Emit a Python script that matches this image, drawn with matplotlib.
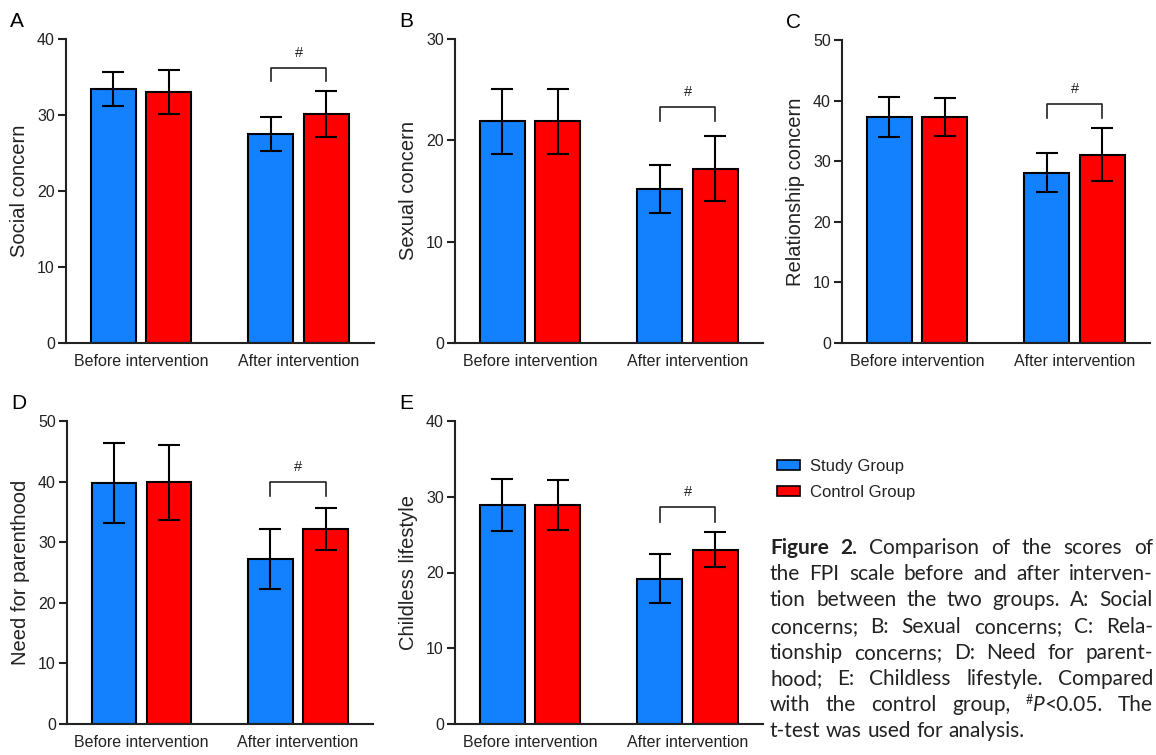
import matplotlib.pyplot as plt
import numpy as np
from matplotlib.patches import Patch

plt.rcParams['font.family'] = ['Liberation Sans', 'DejaVu Sans']

W, H = 1156, 755

groups = ['Before intervention', 'After intervention']
panel_letters = ['A', 'B', 'C', 'D', 'E']
ylabels = ['Social concern', 'Sexual concern', 'Relationship concern',
           'Need for parenthood', 'Childless lifestyle']
ymax = [40, 30, 50, 50, 40]

# mean and SD per panel: [before, after]
study_mean = [[33.4, 27.5], [21.9, 15.2], [37.3, 28.1], [39.7, 27.2], [28.9, 19.2]]
study_sd = [[2.2, 2.3], [3.2, 2.4], [3.3, 3.2], [6.6, 5.0], [3.4, 3.2]]
control_mean = [[33.0, 30.1], [21.9, 17.2], [37.3, 31.1], [39.9, 32.2], [28.9, 23.0]]
control_sd = [[2.9, 3.05], [3.2, 3.2], [3.2, 4.4], [6.2, 3.5], [3.3, 2.3]]

# significance bracket (after intervention)
bracket_top = [36.2, 23.3, 39.4, 39.9, 28.6]
bracket_leg = [34.5, 21.9, 37.1, 37.6, 26.7]

BLUE = '#1380fe'
RED = '#fe0000'
TXT = '#222222'

# axes boxes in pixels: left, top, width, height
boxes = [(66, 39, 308, 304), (455, 39, 308, 304), (842, 40, 308, 303),
         (67, 421, 306, 303), (455, 421, 308, 303)]

fig = plt.figure(figsize=(W / 100, H / 100), dpi=100)

offset = 0.176
width = 0.286
x = np.arange(len(groups))

for i in range(5):
    l, t, w, h = boxes[i]
    ax = fig.add_axes([l / W, 1 - (t + h) / H, w / W, h / H])
    ax.bar(x - offset, study_mean[i], width, color=BLUE, edgecolor='black', linewidth=1.5, zorder=2)
    ax.bar(x + offset, control_mean[i], width, color=RED, edgecolor='black', linewidth=1.5, zorder=2)
    ax.errorbar(x - offset, study_mean[i], yerr=study_sd[i], fmt='none', ecolor='black',
                elinewidth=1.5, capsize=8, capthick=1.5, zorder=3)
    ax.errorbar(x + offset, control_mean[i], yerr=control_sd[i], fmt='none', ecolor='black',
                elinewidth=1.5, capsize=8, capthick=1.5, zorder=3)

    # bracket over after intervention
    bx = [1 - offset, 1 - offset, 1 + offset, 1 + offset]
    by = [bracket_leg[i], bracket_top[i], bracket_top[i], bracket_leg[i]]
    ax.plot(bx, by, color='#222222', linewidth=1.2, zorder=3)
    ax.annotate('#', (1, bracket_top[i]), xytext=(0, 6), textcoords='offset points',
                ha='center', va='bottom', fontsize=10.5, color=TXT)

    ax.set_xlim(-0.476, 1.479)
    ax.set_ylim(0, ymax[i])
    ax.set_yticks(np.arange(0, ymax[i] + 1, 10))
    ax.set_xticks(x)
    ax.set_xticklabels(groups)
    ax.spines['top'].set_visible(False)
    ax.spines['right'].set_visible(False)
    for s in ('left', 'bottom'):
        ax.spines[s].set_linewidth(1.5)
        ax.spines[s].set_color('#222222')
    ax.tick_params(axis='y', direction='out', length=6, width=1.5, pad=2,
                   labelsize=11.5, colors='#222222', labelcolor=TXT)
    ax.tick_params(axis='x', length=0, pad=8, labelsize=11.5, labelcolor=TXT)
    ax.set_ylabel(ylabels[i], fontsize=14.5, color=TXT, labelpad=6)

    fig.text((l - 56) / W, 1 - (t - 12) / H, panel_letters[i], fontsize=15,
             color='black', ha='left', va='baseline')

# legend
handles = [Patch(facecolor=BLUE, edgecolor='black', linewidth=1.2),
           Patch(facecolor=RED, edgecolor='black', linewidth=1.2)]
fig.legend(handles, ['Study Group', 'Control Group'], loc='upper left',
           bbox_to_anchor=(777 / W, 1 - 459 / H), frameon=False, fontsize=12,
           handlelength=1.35, handleheight=0.55, handletextpad=0.65,
           labelspacing=0.65, borderpad=0, borderaxespad=0, labelcolor=TXT)

# justified caption
caption_lines = [
    "Figure 2. Comparison of the scores of",
    "the FPI scale before and after interven-",
    "tion between the two groups. A: Social",
    "concerns; B: Sexual concerns; C: Rela-",
    "tionship concerns; D: Need for parent-",
    "hood; E: Childless lifestyle. Compared",
    "with the control group, #P<0.05. The",
    "t-test was used for analysis.",
]
cap_left, cap_right = 770, 1153
cap_base0, cap_step = 554, 26.2
cap_font = ['Lato', 'DejaVu Sans']
cap_size = 15

renderer = fig.canvas.get_renderer()


def word_segments(li, wi, word):
    if li == 0 and wi < 2:
        return [(word, 'bold')]
    if word.startswith('#P'):
        return [('#', 'sup'), ('P', 'italic'), (word[2:], 'normal')]
    return [(word, 'normal')]


def make_seg(s, style):
    kw = dict(family=cap_font, fontsize=cap_size, color=TXT, ha='left', va='baseline')
    if style == 'bold':
        kw['fontweight'] = 'bold'
    elif style == 'italic':
        kw['fontstyle'] = 'italic'
    elif style == 'sup':
        kw['fontsize'] = cap_size * 0.6
    return fig.text(0, 0, s, **kw)


for li, line in enumerate(caption_lines):
    words = line.split(' ')
    built = []
    for wi, word in enumerate(words):
        segs = []
        for s, style in word_segments(li, wi, word):
            t = make_seg(s, style)
            segs.append((t, style, t.get_window_extent(renderer).width))
        built.append(segs)
    widths = [sum(sw for _, _, sw in segs) for segs in built]
    space = make_seg(' ', 'normal')
    natural_space = space.get_window_extent(renderer).width
    space.remove()
    if li < len(caption_lines) - 1:
        gap = (cap_right - cap_left - sum(widths)) / (len(words) - 1)
    else:
        gap = natural_space
    base = cap_base0 + li * cap_step
    xp = cap_left
    for segs, ww in zip(built, widths):
        sx = xp
        for t, style, sw in segs:
            dy = -7 if style == 'sup' else 0
            t.set_position((sx / W, 1 - (base + dy) / H))
            sx += sw
        xp += ww + gap

fig.savefig('out.png', dpi=100)
